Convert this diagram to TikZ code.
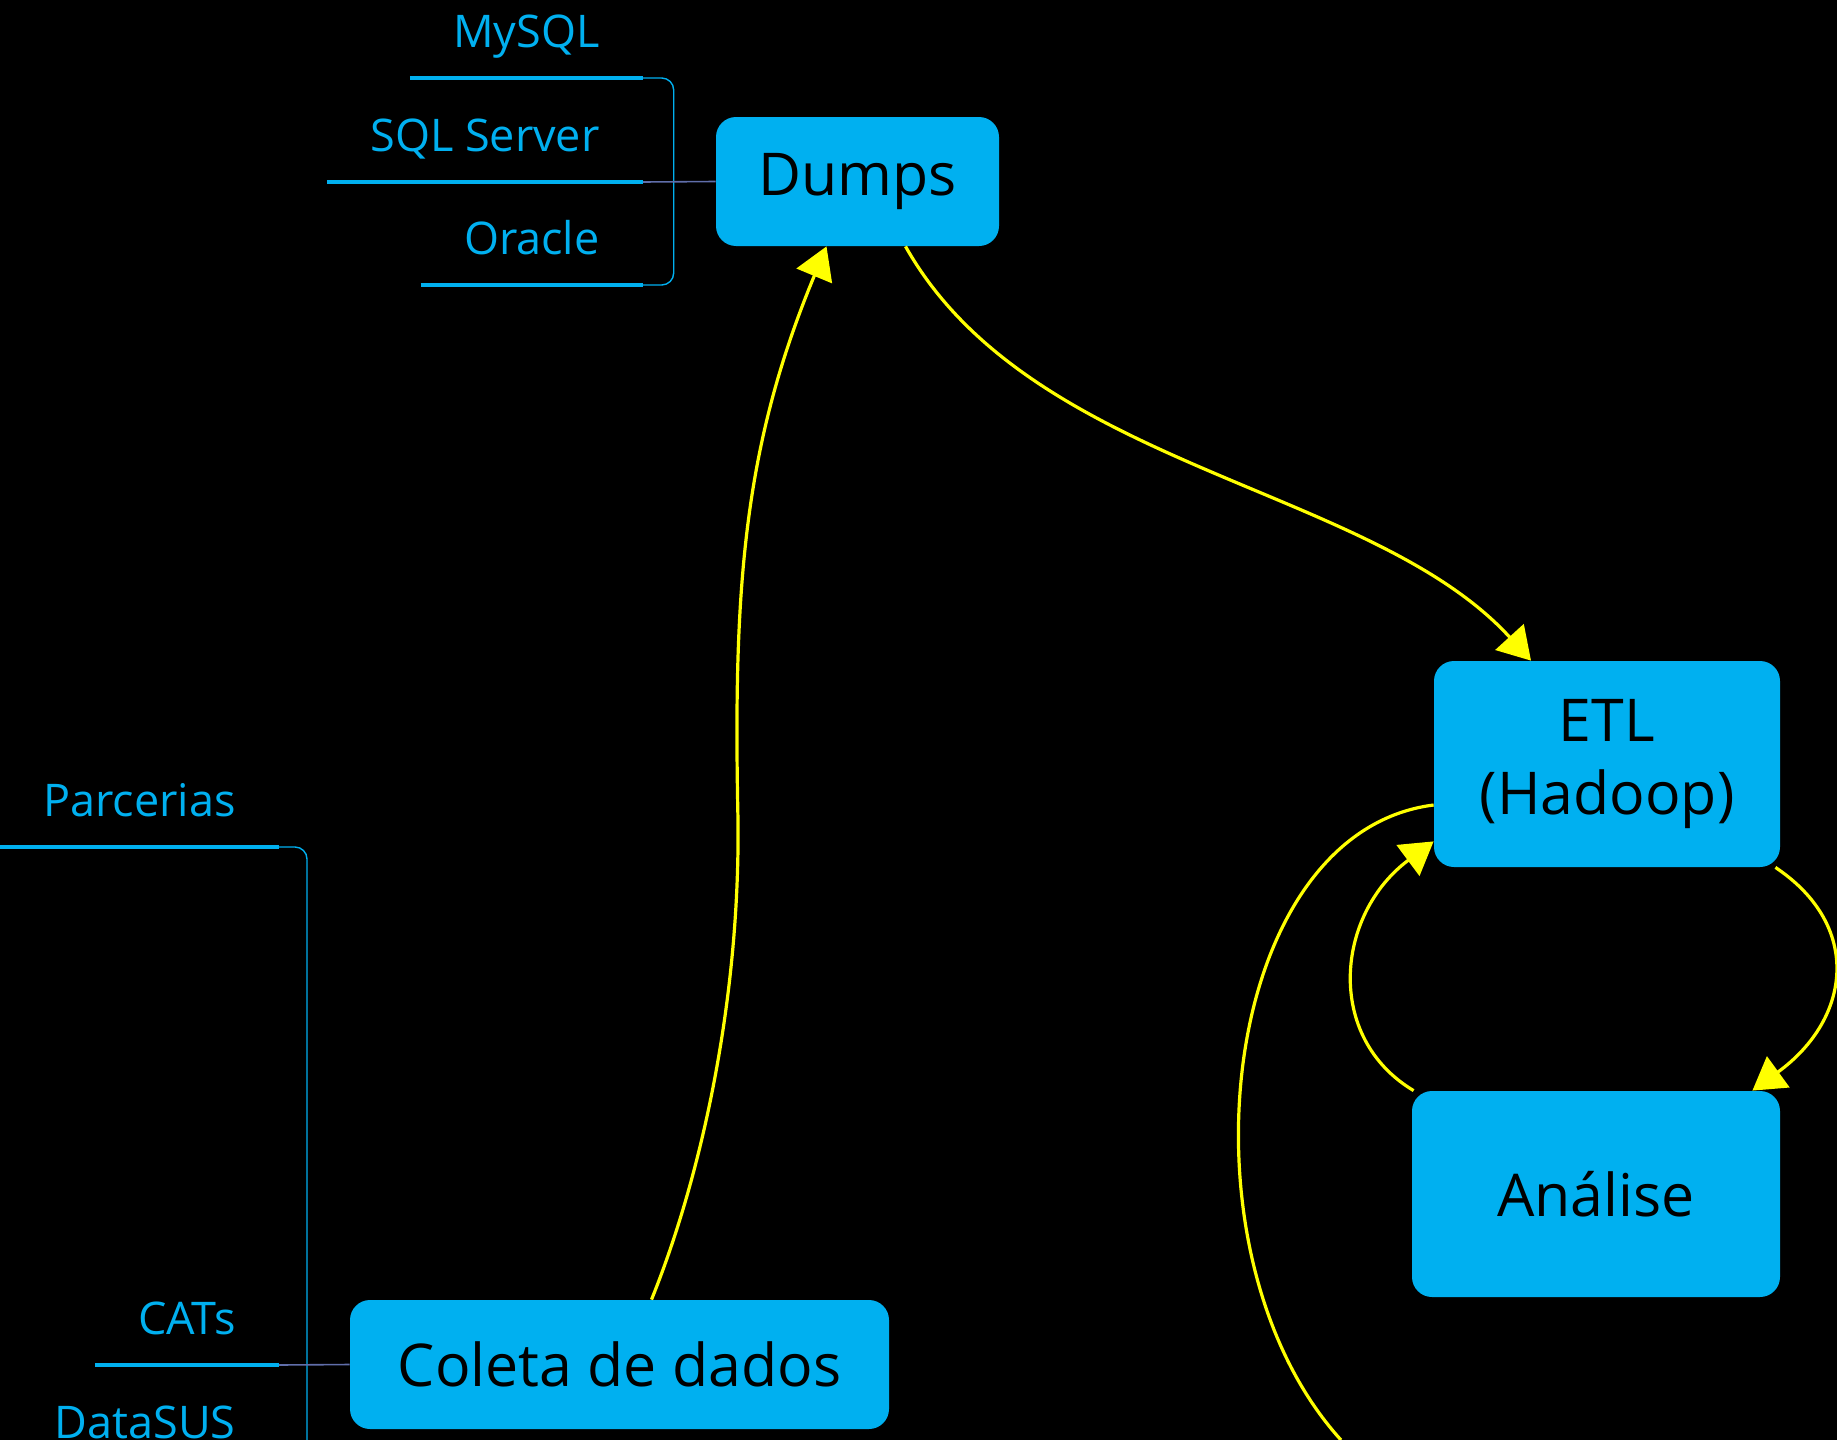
\documentclass[tikz,border=0pt]{standalone}
\usepackage{fontspec}
\setmainfont{Open Sans}
\usetikzlibrary{arrows.meta}

\definecolor{mapblue}{RGB}{0,176,240}
\definecolor{linkgray}{RGB}{96,110,170}
\definecolor{flowyellow}{RGB}{255,255,0}

\tikzset{
  box/.style={rectangle, rounded corners=10pt, fill=mapblue, text=black, inner sep=0pt,
    align=center, font=\fontsize{29.5}{36.5}\selectfont},
  leaf/.style={text=mapblue, font=\fontsize{22.5}{27}\selectfont, anchor=south east,
    inner xsep=21.5pt, inner ysep=10pt, text height=16pt, text depth=5pt},
  twig/.style={draw=mapblue, line width=1.7pt},
  bracket/.style={draw=mapblue, line width=0.7pt, rounded corners=6pt},
  link/.style={draw=linkgray, line width=0.8pt},
  flow/.style={draw=flowyellow, line width=1.6pt}
}

\begin{document}
\begin{tikzpicture}[x=0.5pt,y=-0.5pt,>={Triangle[length=16pt,width=19pt]}]
  \useasboundingbox (0,0) rectangle (1837,1440);
  \fill[black] (0,0) rectangle (1837,1440);

  \node[box, minimum width=141.5pt, minimum height=64.5pt] (dumps) at (857.5,181.5) {Dumps};
  \node[box, minimum width=173pt, minimum height=103pt] (etl) at (1607,764) {ETL\\(Hadoop)};
  \node[box, minimum width=184pt, minimum height=103pt] (analise) at (1596,1194) {Análise};
  \node[box, minimum width=269.5pt, minimum height=64.5pt] (coleta) at (619.5,1364.5) {Coleta de dados};

  % bases de dados
  \node[leaf] (mysql) at (643,78) {MySQL};
  \node[leaf] (sqlsrv) at (643,182) {SQL Server};
  \node[leaf] (oracle) at (643,285) {Oracle};

  % fontes da coleta
  \node[leaf] (parc) at (279,847) {Parcerias};
  \node[leaf] (cats) at (279,1365) {CATs};
  \node[leaf] (datasus) at (279,1469) {DataSUS};

  \foreach \n in {mysql,sqlsrv,oracle,parc,cats,datasus}
    \draw[twig] (\n.south west) -- (\n.south east);

  \coordinate (dbx) at (673.7,0);
  \coordinate (srcx) at (307,0);
  \draw[bracket] (mysql.south east) -| (dbx |- oracle.south east) -- (oracle.south east);
  \draw[bracket] (parc.south east) -| (srcx |- datasus.south east) -- (datasus.south east);
  \draw[link] (sqlsrv.south east) -- (dumps.west);
  \draw[link] (cats.south east) -- (coleta.west);

  % fluxo
  \draw[flow,->] ([xshift=16pt]coleta.north) .. controls (703,1172) and (740,996) .. (738,820)
    .. controls (733,586) and (744,445) .. ([xshift=-15.5pt]dumps.south);
  \draw[flow,->] ([xshift=24pt]dumps.south) .. controls (1031,469) and (1371,485) .. ([xshift=-38pt]etl.north);
  \draw[flow,->] ([xshift=-2.5pt]etl.south east) .. controls (1863,926) and (1851,1019) .. ([xshift=-14pt]analise.north east);
  \draw[flow,->] ([xshift=1pt]analise.north west) .. controls (1324,1037) and (1336,914) .. ([yshift=13pt]etl.south west);
  \coordinate (offpage) at (1341,1440);
  \draw[flow] ([yshift=-20.5pt]etl.west) .. controls (1218,832) and (1172,1254) .. (offpage);
\end{tikzpicture}
\end{document}
